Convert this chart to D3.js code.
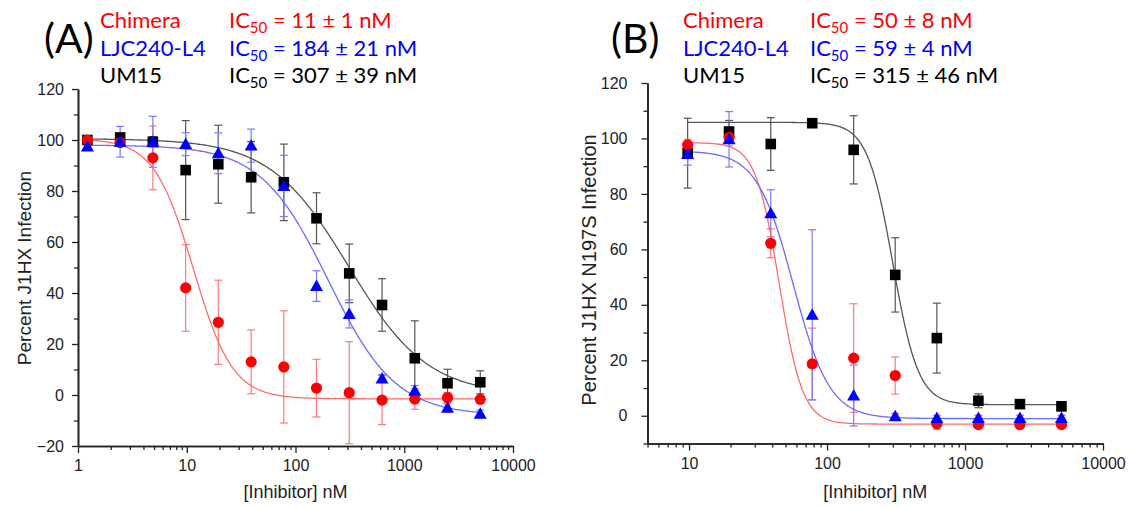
<!DOCTYPE html>
<html><head><meta charset="utf-8">
<script src="https://cdn.jsdelivr.net/npm/d3@7"></script>
<style>
html,body{margin:0;padding:0;background:#fff;}
svg{display:block;}
.tick text{font-family:"Liberation Sans",Arial,sans-serif;font-size:16px;fill:#222;}
</style></head>
<body>
<svg id="chart" width="1129" height="508"></svg>
<script>
// ---------- DATA ----------
const seriesNames = ["Chimera", "LJC240-L4", "UM15"];
const ic50TextA = ["11 ± 1 nM", "184 ± 21 nM", "307 ± 39 nM"];
const ic50TextB = ["50 ± 8 nM", "59 ± 4 nM", "315 ± 46 nM"];

const concA = [1.22, 2.44, 4.88, 9.77, 19.5, 39.1, 78.1, 156, 312, 625, 1250, 2500, 5000];
const chimeraA = [100, 99, 93, 42, 28.5, 13, 11, 2.7, 0.9, -2, -1.6, -1, -1.7];
const chimeraAErr = [1, 1.5, 12.5, 17, 16.5, 12.5, 22, 11.3, 20, 9.6, 4, 2, 1.5];
const ljcA = [97.5, 99.3, 99.3, 98.4, 94.8, 97.8, 82, 42.7, 31.8, 6.5, 1.7, -5, -7.4];
const ljcAErr = [1.5, 6, 10, 4.5, 8, 6.5, 12, 6, 5.5, 1.5, 2, 1.5, 1.5];
const um15A = [100, 101, 99.3, 88.2, 90.5, 85.4, 83.4, 69.3, 47.7, 35.3, 14.4, 4.6, 5];
const um15AErr = [1, 1.5, 2, 19.4, 15.3, 14, 15, 10, 11.5, 10.3, 14.7, 5.5, 4.5];

const concB = [9.77, 19.5, 39.1, 78.1, 156, 312, 625, 1250, 2500, 5000];
const chimeraB = [97.7, 100.4, 62.2, 18.7, 20.8, 14.5, -2.9, -3.2, -3.2, -3.2];
const chimeraBErr = [2, 3, 5.2, 12.9, 19.6, 6.7, 2, 1, 1, 1];
const ljcB = [94.4, 99.7, 73, 36.4, 7.3, -0.2, -0.8, -0.8, -0.8, -0.8];
const ljcBErr = [4, 10, 8.5, 30.7, 11, 1, 1, 1, 1, 1];
const um15B = [94.7, 102.5, 98, 105.5, 95.9, 50.8, 28, 5.4, 4.2, 3.4];
const um15BErr = [12.6, 4, 9.5, 1, 12.3, 13.4, 12.6, 2.5, 1, 1.5];

// four-parameter logistic fit parameters (Chimera, LJC240-L4, UM15)
const fitTopA = [100.5, 98, 100.5];
const fitBottomA = [-1.5, -8, 0];
const fitIC50A = [11.5, 200, 310];
const fitHillA = [2.4, 1.4, 1.2];
const fitTopB = [98.5, 95.5, 105.8];
const fitBottomB = [-3, -1, 4];
const fitIC50B = [45, 57, 300];
const fitHillB = [5.1, 3.3, 4.7];

const xTicksA = [1, 10, 100, 1000, 10000];
const xTicksB = [10, 100, 1000, 10000];
const yTicksA = [-20, 0, 20, 40, 60, 80, 100, 120];
const yTicksB = [0, 20, 40, 60, 80, 100, 120];

// ---------- STYLE ----------
const markerColors = ["#ff0000", "#0000ff", "#000000"];
const lineColors = ["#ff6b6b", "#6b6bff", "#555555"];
const errColors = ["#ff7a7a", "#7a7aff", "#555555"];
const shapes = ["circle", "triangle", "square"];

const svg = d3.select("#chart");

function minorLog(lo, hi) {
  const out = [];
  for (let e = -1; e <= 4; e++) {
    for (let m = 2; m <= 9; m++) {
      const v = m * Math.pow(10, e);
      if (v >= lo - 1e-9 && v <= hi + 1e-9) out.push(v);
    }
  }
  return out;
}

function drawPanel(p) {
  const g = svg.append("g");
  const x = d3.scaleLog().domain(p.xDomain).range(p.xRange);
  const y = d3.scaleLinear().domain(p.yDomain).range(p.yRange);

  const order = [2, 0, 1];
  // error bars
  order.forEach(i => {
    const vals = p.values[i], errs = p.errs[i];
    const eg = g.append("g").attr("stroke", errColors[i]).attr("stroke-width", 1.2).attr("fill", "none");
    p.conc.forEach((c, j) => {
      const cx = x(c), y1 = y(vals[j] + errs[j]), y2 = y(vals[j] - errs[j]);
      eg.append("line").attr("x1", cx).attr("x2", cx).attr("y1", y1).attr("y2", y2);
      eg.append("line").attr("x1", cx - 4).attr("x2", cx + 4).attr("y1", y1).attr("y2", y1);
      eg.append("line").attr("x1", cx - 4).attr("x2", cx + 4).attr("y1", y2).attr("y2", y2);
    });
  });

  // fitted curves
  order.forEach(i => {
    const lo = Math.log10(p.conc[0]), hi = Math.log10(p.conc[p.conc.length - 1]);
    const pts = d3.range(0, 301).map(k => Math.pow(10, lo + (hi - lo) * k / 300));
    const f = c => p.bottom[i] + (p.top[i] - p.bottom[i]) / (1 + Math.pow(c / p.ic50[i], p.hill[i]));
    g.append("path")
      .attr("d", d3.line().x(c => x(c)).y(c => y(f(c)))(pts))
      .attr("fill", "none").attr("stroke", lineColors[i]).attr("stroke-width", 1.3);
  });

  // markers
  order.forEach(i => {
    const mg = g.append("g").attr("fill", markerColors[i]);
    p.conc.forEach((c, j) => {
      const cx = x(c), cy = y(p.values[i][j]);
      if (shapes[i] === "circle") {
        mg.append("circle").attr("cx", cx).attr("cy", cy).attr("r", 5.6);
      } else if (shapes[i] === "square") {
        mg.append("rect").attr("x", cx - 5.3).attr("y", cy - 5.3).attr("width", 10.6).attr("height", 10.6);
      } else {
        mg.append("path").attr("d", `M${cx},${cy - 6.5}L${cx + 6.5},${cy + 5}L${cx - 6.5},${cy + 5}Z`);
      }
    });
  });

  // axes
  const xAxis = d3.axisBottom(x).tickValues(p.xTicks).tickFormat(d3.format("d")).tickSize(7).tickSizeOuter(0).tickPadding(7);
  const xMinor = d3.axisBottom(x).tickValues(minorLog(p.xDomain[0], p.xDomain[1])).tickFormat("").tickSize(4).tickSizeOuter(0);
  const yAxis = d3.axisLeft(y).tickValues(p.yTicks).tickSize(6).tickSizeOuter(0).tickPadding(p.yPad);
  const yMinorVals = d3.range(p.yDomain[0], p.yDomain[1] + 1, 10).filter(v => !p.yTicks.includes(v));
  const yMinor = d3.axisLeft(y).tickValues(yMinorVals).tickFormat("").tickSize(4).tickSizeOuter(0);

  const ax = [
    g.append("g").attr("transform", `translate(0,${p.yRange[0]})`).call(xMinor),
    g.append("g").attr("transform", `translate(0,${p.yRange[0]})`).call(xAxis),
    g.append("g").attr("transform", `translate(${p.xRange[0]},0)`).call(yMinor),
    g.append("g").attr("transform", `translate(${p.xRange[0]},0)`).call(yAxis)
  ];
  ax.forEach(a => {
    a.selectAll("path.domain").attr("stroke", "#222").attr("stroke-width", 1.6);
    a.selectAll(".tick line").attr("stroke", "#222").attr("stroke-width", 1.3);
  });

  // axis titles
  g.append("text").attr("x", (p.xRange[0] + p.xRange[1]) / 2).attr("y", 498)
    .attr("text-anchor", "middle").attr("font-family", "Liberation Sans, Arial, sans-serif")
    .attr("font-size", 18).attr("fill", "#222").text("[Inhibitor] nM");
  g.append("text").attr("transform", `translate(${p.yTitleX},${p.yTitleY}) rotate(-90)`)
    .attr("text-anchor", "middle").attr("font-family", "Liberation Sans, Arial, sans-serif")
    .attr("font-size", p.yTitleSize).attr("fill", "#222").text(p.yTitle);

  // panel label
  svg.append("text").attr("x", p.labelX).attr("y", 53).attr("font-family", "Lato, sans-serif")
    .attr("font-size", 41).attr("fill", "#000").text(p.label);

  // legend
  seriesNames.forEach((name, i) => {
    const by = 28 + i * 27.5;
    const col = markerColors[i];
    svg.append("text").attr("x", p.legX).attr("y", by).attr("font-family", "Lato, sans-serif")
      .attr("font-size", 22).attr("fill", col).text(name);
    const t = svg.append("text").attr("x", p.icX).attr("y", by).attr("font-family", "Lato, sans-serif")
      .attr("font-size", 22).attr("fill", col);
    t.append("tspan").text("IC");
    t.append("tspan").attr("font-size", 15).attr("dy", 5).text("50");
    t.append("tspan").attr("dy", -5).text(" = " + p.icTexts[i]);
  });
}

drawPanel({
  xDomain: [1, 10000], xRange: [78, 513],
  yDomain: [-20, 120], yRange: [446, 89],
  xTicks: xTicksA, yTicks: yTicksA, yPad: 8,
  conc: concA,
  values: [chimeraA, ljcA, um15A], errs: [chimeraAErr, ljcAErr, um15AErr],
  top: fitTopA, bottom: fitBottomA, ic50: fitIC50A, hill: fitHillA,
  yTitle: "Percent J1HX Infection", yTitleX: 31, yTitleY: 268, yTitleSize: 19,
  label: "(A)", labelX: 44, legX: 100, icX: 229, icTexts: ic50TextA
});

drawPanel({
  xDomain: [5, 10000], xRange: [647.5, 1103],
  yDomain: [-10, 120], yRange: [443.5, 83],
  xTicks: xTicksB, yTicks: yTicksB, yPad: 14,
  conc: concB,
  values: [chimeraB, ljcB, um15B], errs: [chimeraBErr, ljcBErr, um15BErr],
  top: fitTopB, bottom: fitBottomB, ic50: fitIC50B, hill: fitHillB,
  yTitle: "Percent J1HX N197S Infection", yTitleX: 596, yTitleY: 270, yTitleSize: 20,
  label: "(B)", labelX: 611, legX: 683, icX: 810, icTexts: ic50TextB
});
</script>
</body></html>
